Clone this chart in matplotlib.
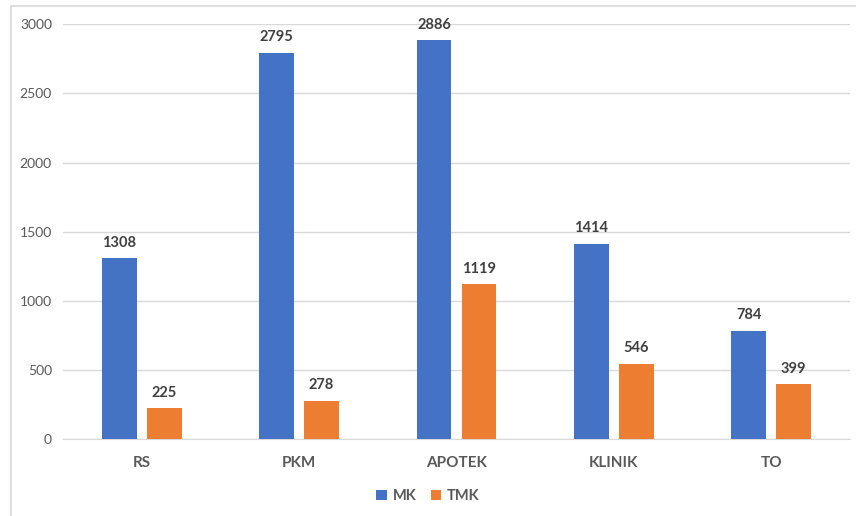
import numpy as np
import matplotlib.pyplot as plt
from matplotlib.patches import Rectangle

categories = ['RS', 'PKM', 'APOTEK', 'KLINIK', 'TO']
mk = [1308, 2795, 2886, 1414, 784]
tmk = [225, 278, 1119, 546, 399]
series_names = ['MK', 'TMK']

plt.rcParams['font.family'] = ['Lato', 'DejaVu Sans']

fig = plt.figure(figsize=(8.56, 5.16), dpi=100)
ax = fig.add_axes([0.0736, 0.149, 0.9194, 0.804])

# light frame around the chart area
fig.patches.append(Rectangle((11 / 856, -0.05), 1.0, 1 - 6 / 516 + 0.05,
                             transform=fig.transFigure, fill=False,
                             edgecolor='#d9d9d9', linewidth=1.2))

x = np.arange(len(categories))
w = 0.222
off = 0.143
b1 = ax.bar(x - off, mk, w, color='#4472C4', label=series_names[0], zorder=3)
b2 = ax.bar(x + off, tmk, w, color='#ED7D31', label=series_names[1], zorder=3)

for bars, vals in ((b1, mk), (b2, tmk)):
    for rect, v in zip(bars, vals):
        ax.text(rect.get_x() + rect.get_width() / 2, v + 60, str(v),
                ha='center', va='bottom', fontsize=10.5, fontweight='bold',
                color='#404040')

ax.set_xlim(-0.5, len(categories) - 0.5)
ax.set_ylim(0, 3000)
ax.set_yticks(range(0, 3001, 500))
ax.yaxis.grid(True, color='#d9d9d9', linewidth=1, zorder=0)
for s in ['top', 'right', 'left']:
    ax.spines[s].set_visible(False)
ax.spines['bottom'].set_color('#d9d9d9')
ax.tick_params(axis='both', length=0)
ax.tick_params(axis='y', labelsize=10, labelcolor='#595959', pad=8)
ax.set_xticks(x)
ax.set_xticklabels(categories, fontsize=11, fontweight='bold', color='#595959')
ax.tick_params(axis='x', pad=12)

leg = fig.legend(handles=[b1, b2], labels=series_names, loc='center',
                 bbox_to_anchor=(0.5, 20 / 516), ncol=2, frameon=False,
                 fontsize=10.5, handlelength=0.7, handleheight=0.7,
                 handletextpad=0.4, columnspacing=1.0, labelcolor='#595959')
for t in leg.get_texts():
    t.set_fontweight('bold')

fig.savefig('out.png', dpi=100)
